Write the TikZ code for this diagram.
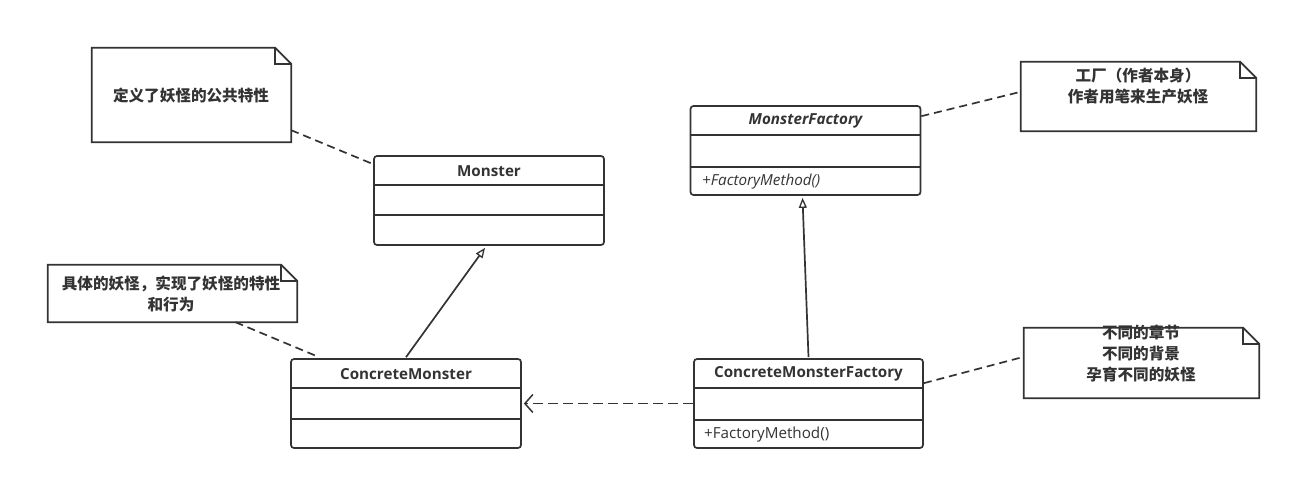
\documentclass[tikz,border=0pt]{standalone}
\usepackage{fontspec}
\setmainfont{Open Sans}
\newfontfamily\cjk{Noto Sans CJK SC}
\usetikzlibrary{arrows.meta}
\definecolor{ln}{HTML}{333333}
\begin{document}
\begin{tikzpicture}[x=1pt,y=-1pt,
  umlbox/.style={draw=ln,line width=1.7pt,rounded corners=3pt,inner sep=0pt,minimum width=230pt,minimum height=89pt},
  divider/.style={draw=ln,line width=1.7pt},
  ctitle/.style={text=ln,font=\fontsize{15.2pt}{18pt}\selectfont\bfseries,inner sep=0pt},
  cmember/.style={text=ln,font=\fontsize{15.2pt}{18pt}\selectfont,inner sep=0pt,anchor=west},
  notearea/.style={inner sep=0pt},
  noteline/.style={draw=ln,line width=1.7pt,line join=miter},
  notetext/.style={text=ln,font=\fontsize{15.6pt}{21pt}\selectfont\cjk\bfseries,align=center,inner sep=0pt},
  link/.style={draw=ln,line width=1.7pt,dash pattern=on 8pt off 5pt},
  inherit/.style={draw=ln,line width=1.7pt,-{Triangle[open,length=10pt,width=8pt,line width=1.3pt]}},
  depend/.style={draw=ln,line width=1.7pt,dash pattern=on 10pt off 5pt,-{Straight Barb[length=8pt,width=18pt,line width=1.5pt]}}]
\useasboundingbox (0,0) rectangle (1292,480);

% ---- classes
\node[umlbox] (monster) at (489,200.5) {};
\draw[divider] ([yshift=-30pt]monster.north west) -- ([yshift=-30pt]monster.north east);
\draw[divider] ([yshift=-60pt]monster.north west) -- ([yshift=-60pt]monster.north east);
\node[ctitle] (monsterT) at (489,171) {Monster};

\node[umlbox] (mf) at (805.5,150.5) {};
\draw[divider] ([yshift=-30pt]mf.north west) -- ([yshift=-30pt]mf.north east);
\draw[divider] ([yshift=-62pt]mf.north west) -- ([yshift=-62pt]mf.north east);
\node[ctitle,font=\fontsize{15.2pt}{18pt}\selectfont\bfseries\itshape] (mfT) at (805.5,121) {MonsterFactory};
\node[cmember,font=\fontsize{15.2pt}{18pt}\selectfont\itshape] (mfM) at (702,182) {+FactoryMethod()};

\node[umlbox] (cm) at (406,403.5) {};
\draw[divider] ([yshift=-30pt]cm.north west) -- ([yshift=-30pt]cm.north east);
\draw[divider] ([yshift=-61pt]cm.north west) -- ([yshift=-61pt]cm.north east);
\node[ctitle] (cmT) at (406,374) {ConcreteMonster};

\node[umlbox,minimum width=229pt] (cmf) at (808.5,403.5) {};
\draw[divider] ([yshift=-30pt]cmf.north west) -- ([yshift=-30pt]cmf.north east);
\draw[divider] ([yshift=-62pt]cmf.north west) -- ([yshift=-62pt]cmf.north east);
\node[ctitle] (cmfT) at (808.5,374) {ConcreteMonsterFactory};
\node[cmember] (cmfM) at (704,435) {+FactoryMethod()};

% ---- notes
\node[notearea,minimum width=199pt,minimum height=94pt] (n1) at (191.5,95) {};
\draw[noteline] (n1.north west) -- ([xshift=-16pt]n1.north east) -- ([yshift=-16pt]n1.north east) -- (n1.south east) -- (n1.south west) -- cycle;
\draw[noteline] ([xshift=-16pt]n1.north east) -- ([xshift=-16pt,yshift=-16pt]n1.north east) -- ([yshift=-16pt]n1.north east);
\node[notetext] (n1t) at (191,96) {定义了妖怪的公共特性};

\node[notearea,minimum width=235pt,minimum height=69pt] (n2) at (1138.5,96.5) {};
\draw[noteline] (n2.north west) -- ([xshift=-16pt]n2.north east) -- ([yshift=-16pt]n2.north east) -- (n2.south east) -- (n2.south west) -- cycle;
\draw[noteline] ([xshift=-16pt]n2.north east) -- ([xshift=-16pt,yshift=-16pt]n2.north east) -- ([yshift=-16pt]n2.north east);
\node[notetext] (n2t) at (1138,86.5) {工厂（作者本身）\\作者用笔来生产妖怪};

\node[notearea,minimum width=249pt,minimum height=57pt] (n3) at (172.5,293.5) {};
\draw[noteline] (n3.north west) -- ([xshift=-16pt]n3.north east) -- ([yshift=-16pt]n3.north east) -- (n3.south east) -- (n3.south west) -- cycle;
\draw[noteline] ([xshift=-16pt]n3.north east) -- ([xshift=-16pt,yshift=-16pt]n3.north east) -- ([yshift=-16pt]n3.north east);
\node[notetext] (n3t) at (171,294) {具体的妖怪，实现了妖怪的特性\\和行为};

\node[notearea,minimum width=235pt,minimum height=70pt] (n4) at (1141.5,363) {};
\draw[noteline] (n4.north west) -- ([xshift=-16pt]n4.north east) -- ([yshift=-16pt]n4.north east) -- (n4.south east) -- (n4.south west) -- cycle;
\draw[noteline] ([xshift=-16pt]n4.north east) -- ([xshift=-16pt,yshift=-16pt]n4.north east) -- ([yshift=-16pt]n4.north east);
\node[notetext] (n4t) at (1141,354) {不同的章节\\不同的背景\\孕育不同的妖怪};

% ---- connectors
\draw[link] ([yshift=12pt]n1.south east) -- ([yshift=-9pt]monster.north west);
\draw[link] ([yshift=-11pt]mf.north east) -- ([yshift=-30pt]n2.north west);
\draw[link] ([xshift=63pt]n3.south) -- ([xshift=29pt,yshift=1pt]cm.north west);
\draw[link] ([yshift=-25pt]cmf.north east) -- ([yshift=-29pt]n4.north west);

\draw[inherit] ([yshift=1pt]cm.north) -- ([xshift=-4pt,yshift=-2pt]monster.south);
\draw[inherit] ([yshift=1pt]cmf.north) -- ([xshift=-3pt,yshift=-2pt]mf.south);
\draw[depend] (cmf.west) -- ([xshift=2pt]cm.east);
\end{tikzpicture}
\end{document}
